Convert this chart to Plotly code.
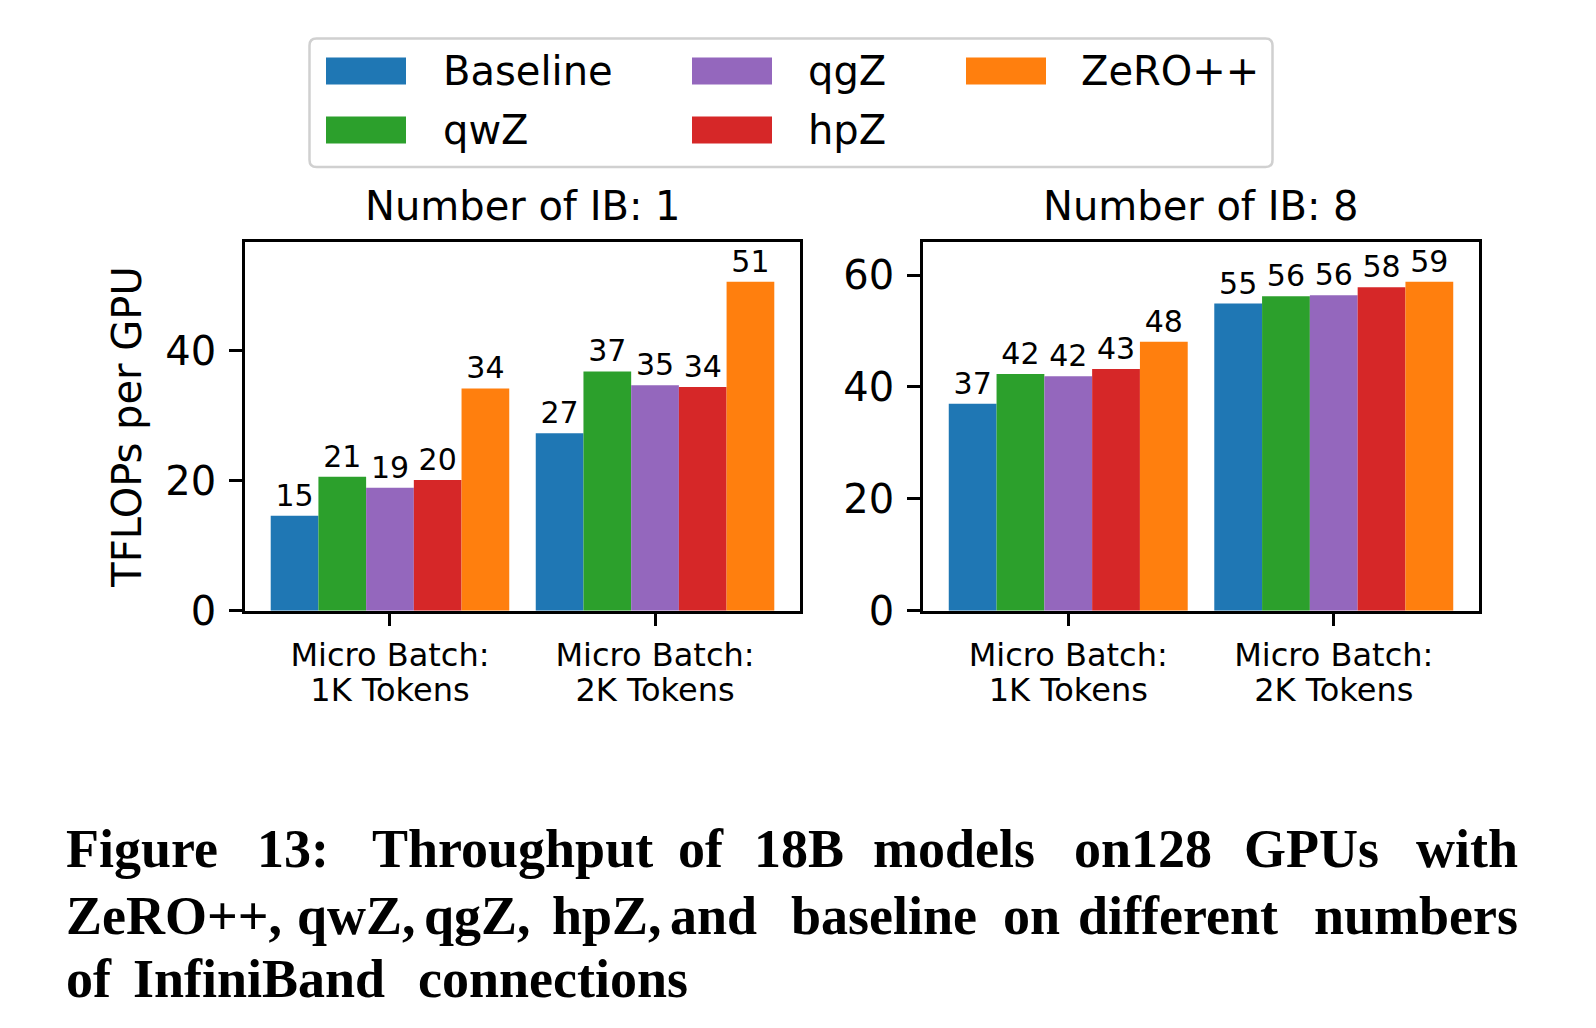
import plotly.graph_objects as go

# ---------------- data ----------------
categories = ["Micro Batch:<br>1K Tokens", "Micro Batch:<br>2K Tokens"]
series_names = ["Baseline", "qwZ", "qgZ", "hpZ", "ZeRO++"]
series_colors = ["#1f77b4", "#2ca02c", "#9467bd", "#d62728", "#ff7f0e"]

ib1_baseline = [14.6, 27.3]
ib1_qwz = [20.6, 36.8]
ib1_qgz = [18.9, 34.7]
ib1_hpz = [20.1, 34.4]
ib1_zeropp = [34.2, 50.6]

ib8_baseline = [37.0, 54.9]
ib8_qwz = [42.3, 56.2]
ib8_qgz = [41.9, 56.4]
ib8_hpz = [43.2, 57.8]
ib8_zeropp = [48.1, 58.8]

panel_titles = ["Number of IB: 1", "Number of IB: 8"]
y_title = "TFLOPs per GPU"
caption_lines = [
    ["Figure", "13:", "Throughput", "of", "18B", "models", "on128", "GPUs", "with"],
    ["ZeRO++,", "qwZ,", "qgZ,", "hpZ,", "and", "baseline", "on", "different", "numbers"],
    ["of", "InfiniBand", "connections"],
]

ib1 = [ib1_baseline, ib1_qwz, ib1_qgz, ib1_hpz, ib1_zeropp]
ib8 = [ib8_baseline, ib8_qwz, ib8_qgz, ib8_hpz, ib8_zeropp]

tick_line1 = [c.split("<br>")[0] for c in categories]
tick_line2 = [c.split("<br>")[1] for c in categories]
tick_pos = list(range(len(categories)))

# ---------------- layout helpers ----------------
W, H = 1596, 1028
FONT = "DejaVu Sans"
SERIF = "Liberation Serif"


def px(x):
    return x / W


def py(y):
    return 1 - y / H


fig = go.Figure()

for i, name in enumerate(series_names):
    for panel, data, xa, ya in [(0, ib1, "x", "y"), (1, ib8, "x2", "y2")]:
        fig.add_trace(go.Bar(
            x=categories, y=data[i], name=name, xaxis=xa, yaxis=ya,
            marker=dict(color=series_colors[i], line=dict(width=0)),
            texttemplate="%{y:.0f}", textposition="outside",
            textfont=dict(family=FONT, size=30, color="black"),
            constraintext="none", cliponaxis=False, showlegend=False,
            hoverinfo="skip",
        ))

# invisible helper traces so the second line of the category labels gets its own axis
for xa, ya in [("x3", "y"), ("x4", "y2")]:
    fig.add_trace(go.Scatter(x=tick_pos, y=[None] * len(tick_pos), mode="none",
                             xaxis=xa, yaxis=ya, showlegend=False, hoverinfo="skip"))

ymax1 = max(max(s) for s in ib1) * 1.12
ymax8 = max(max(s) for s in ib8) * 1.12

axis_common = dict(
    showline=True, mirror=True, linecolor="black", linewidth=2.5,
    ticks="outside", ticklen=13, tickwidth=2.5, tickcolor="black",
    showgrid=False, zeroline=False, automargin=False,
)
overlay_common = dict(
    type="linear", showline=False, ticks="outside", ticklen=13, tickwidth=2.5,
    tickcolor="rgba(0,0,0,0)", showgrid=False, zeroline=False,
    automargin=False, tickvals=tick_pos, ticktext=tick_line2, side="bottom",
    tickfont=dict(size=32, family=FONT, color="black"), ticklabelstandoff=38,
    range=[-0.547, 1.547], fixedrange=True,
)

y_top, y_bot = 242.3, 610.7
xl = (245, 800)
xr = (923, 1479)

fig.update_layout(
    width=W, height=H,
    margin=dict(l=0, r=0, t=0, b=0, autoexpand=False),
    paper_bgcolor="white", plot_bgcolor="white",
    barmode="group", bargap=0.1, bargroupgap=0,
    font=dict(family=FONT, color="black"),
    xaxis=dict(domain=[px(xl[0]), px(xl[1])], range=[-0.547, 1.547],
               tickvals=categories, ticktext=tick_line1,
               tickfont=dict(size=32, family=FONT), ticklabelstandoff=1,
               anchor="y", **axis_common),
    yaxis=dict(domain=[py(y_bot), py(y_top)], range=[0, ymax1], dtick=20,
               tickfont=dict(size=40, family=FONT), ticklabelstandoff=5,
               title=dict(text=y_title, font=dict(size=40, family=FONT), standoff=12),
               anchor="x", **axis_common),
    xaxis2=dict(domain=[px(xr[0]), px(xr[1])], range=[-0.547, 1.547],
                tickvals=categories, ticktext=tick_line1,
                tickfont=dict(size=32, family=FONT), ticklabelstandoff=1,
                anchor="y2", **axis_common),
    yaxis2=dict(domain=[py(y_bot), py(y_top)], range=[0, ymax8], dtick=20,
                tickfont=dict(size=40, family=FONT), ticklabelstandoff=5,
                anchor="x2", **axis_common),
    xaxis3=dict(overlaying="x", anchor="y", domain=[px(xl[0]), px(xl[1])], **overlay_common),
    xaxis4=dict(overlaying="x2", anchor="y2", domain=[px(xr[0]), px(xr[1])], **overlay_common),
)

annotations = []
# panel titles
for t, (a, b) in zip(panel_titles, [xl, xr]):
    annotations.append(dict(text=t, x=px((a + b) / 2), y=py(206), xref="paper", yref="paper",
                            xanchor="center", yanchor="middle", showarrow=False,
                            font=dict(size=40, family=FONT, color="black")))

# legend (matplotlib-style, 3 columns, column-major order)
shapes = []
patch_left = [326, 692, 966]
text_left = [441, 806, 1079]
row_center = [71, 130]
for i, name in enumerate(series_names):
    col, row = i // 2, i % 2
    shapes.append(dict(type="rect", xref="paper", yref="paper",
                       x0=px(patch_left[col]), x1=px(patch_left[col] + 80),
                       y0=py(row_center[row] - 13.5), y1=py(row_center[row] + 13.5),
                       fillcolor=series_colors[i], line=dict(width=0)))
    annotations.append(dict(text=name, x=px(text_left[col]), y=py(row_center[row]),
                            xref="paper", yref="paper", xanchor="left", yanchor="middle",
                            showarrow=False, font=dict(size=40, family=FONT, color="black")))

# rounded legend frame
x0, x1, y0, y1, r = 309.5, 1272.5, 38.5, 167.0, 7


def P(x, y):
    return f"{px(x):.6f},{py(y):.6f}"


path = (f"M {P(x0 + r, y0)} L {P(x1 - r, y0)} Q {P(x1, y0)} {P(x1, y0 + r)} "
        f"L {P(x1, y1 - r)} Q {P(x1, y1)} {P(x1 - r, y1)} "
        f"L {P(x0 + r, y1)} Q {P(x0, y1)} {P(x0, y1 - r)} "
        f"L {P(x0, y0 + r)} Q {P(x0, y0)} {P(x0 + r, y0)} Z")
shapes.append(dict(type="path", xref="paper", yref="paper", path=path,
                   line=dict(color="#d0d0d0", width=2.5), fillcolor="rgba(0,0,0,0)"))

# caption, justified by word placement
line_y = [849, 916, 979]
word_x = [
    [64, 292.5, 512.5, 700.5, 798.5, 954, 1142.5, 1311, 1520],
    [64, 356, 477, 607, 713, 884, 1031.5, 1178, 1520],
    [64, 259, 553],
]
for li, words in enumerate(caption_lines):
    n = len(words)
    for wi, w in enumerate(words):
        if wi == 0:
            anc = "left"
        elif wi == n - 1 and li < 2:
            anc = "right"
        else:
            anc = "center"
        annotations.append(dict(text=f"<b>{w}</b>", x=px(word_x[li][wi]), y=py(line_y[li]),
                                xref="paper", yref="paper", xanchor=anc, yanchor="middle",
                                showarrow=False,
                                font=dict(size=54, family=SERIF, color="black")))

fig.update_layout(annotations=annotations, shapes=shapes)

post = "document.body.style.margin='0';document.documentElement.style.overflow='hidden';"

fig.write_html("out.html", config={"displayModeBar": False}, post_script=post)
